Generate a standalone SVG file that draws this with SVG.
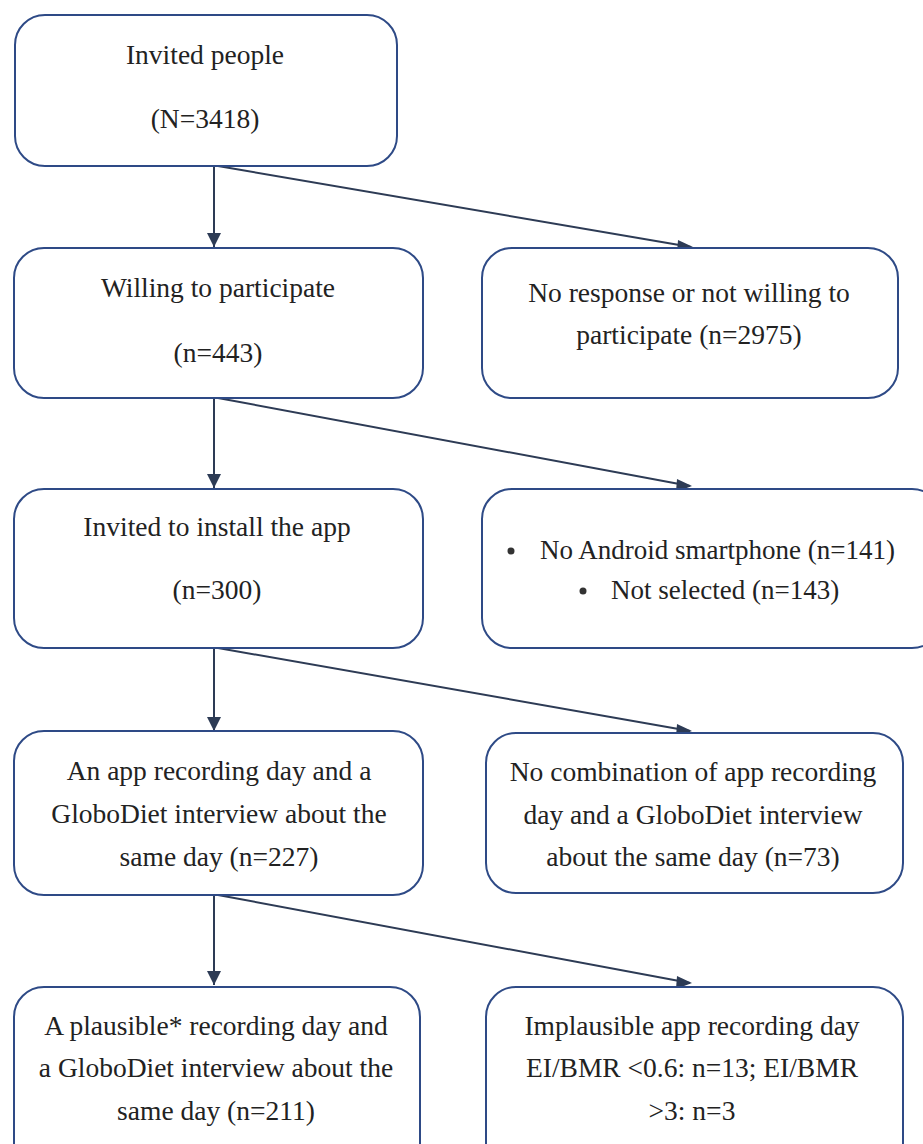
<svg xmlns="http://www.w3.org/2000/svg" width="923" height="1144" viewBox="0 0 923 1144">
<style>
.box{fill:#fff;stroke:#2E4A86;stroke-width:2}
.t{font-family:'Liberation Serif','Times New Roman','DejaVu Serif',serif;font-size:27.5px;fill:#222;text-anchor:middle}
.tl{font-family:'Liberation Serif','Times New Roman','DejaVu Serif',serif;font-size:27px;fill:#222}
.ln{stroke:#2D3B55;stroke-width:2;fill:none}
.ah{fill:#2D3B55}
</style>
<rect width="923" height="1144" fill="#fff"/>
<g id="connectors">
<line class="ln" x1="214" y1="166" x2="214" y2="247"/>
<path class="ah" d="M207,233 L221,233 L214,247 z"/>
<line class="ln" x1="218" y1="166" x2="691" y2="247"/>
<path class="ah" d="M678,240 L693,247 L677,253 z"/>
<line class="ln" x1="214" y1="398" x2="214" y2="488"/>
<path class="ah" d="M207,474 L221,474 L214,488 z"/>
<line class="ln" x1="218" y1="398" x2="690" y2="486"/>
<path class="ah" d="M677,479 L692,486 L676,492 z"/>
<line class="ln" x1="214" y1="648" x2="214" y2="731"/>
<path class="ah" d="M207,717 L221,717 L214,731 z"/>
<line class="ln" x1="218" y1="648" x2="690" y2="731"/>
<path class="ah" d="M677,724 L692,731 L676,737 z"/>
<line class="ln" x1="214" y1="895" x2="214" y2="985"/>
<path class="ah" d="M207,971 L221,971 L214,985 z"/>
<line class="ln" x1="218" y1="895" x2="690" y2="983"/>
<path class="ah" d="M677,976 L692,983 L676,989 z"/>
</g>
<g id="n1">
<rect class="box" x="15" y="15" width="382" height="151" rx="30"/>
<text class="t" x="205" y="64">Invited people</text>
<text class="t" x="205" y="128">(N=3418)</text>
</g>
<g id="n2">
<rect class="box" x="14" y="248" width="409" height="150" rx="30"/>
<text class="t" x="218" y="297">Willing to participate</text>
<text class="t" x="218" y="362">(n=443)</text>
</g>
<g id="n3">
<rect class="box" x="482" y="248" width="416" height="150" rx="30"/>
<text class="t" x="689" y="302">No response or not willing to</text>
<text class="t" x="689" y="344">participate (n=2975)</text>
</g>
<g id="n4">
<rect class="box" x="14" y="489" width="409" height="159" rx="30"/>
<text class="t" x="217" y="536">Invited to install the app</text>
<text class="t" x="217" y="599">(n=300)</text>
</g>
<g id="n5">
<rect class="box" x="482" y="489" width="460" height="159" rx="30"/>
<circle cx="511" cy="551" r="3.5" fill="#333"/>
<text class="tl" x="540" y="559">No Android smartphone (n=141)</text>
<circle cx="583" cy="591" r="3.5" fill="#333"/>
<text class="tl" x="611" y="599">Not selected (n=143)</text>
</g>
<g id="n6">
<rect class="box" x="14" y="731" width="409" height="164" rx="30"/>
<text class="t" x="219" y="780">An app recording day and a</text>
<text class="t" x="219" y="823">GloboDiet interview about the</text>
<text class="t" x="219" y="866">same day (n=227)</text>
</g>
<g id="n7">
<rect class="box" x="486" y="733" width="417" height="160" rx="30"/>
<text class="t" x="693" y="781">No combination of app recording</text>
<text class="t" x="693" y="824">day and a GloboDiet interview</text>
<text class="t" x="693" y="866">about the same day  (n=73)</text>
</g>
<g id="n8">
<rect class="box" x="14" y="987" width="406" height="190" rx="30"/>
<text class="t" x="216" y="1035">A plausible* recording day and</text>
<text class="t" x="216" y="1077">a GloboDiet interview about the</text>
<text class="t" x="216" y="1120">same day (n=211)</text>
</g>
<g id="n9">
<rect class="box" x="486" y="987" width="417" height="190" rx="30"/>
<text class="t" x="692" y="1035">Implausible app recording day</text>
<text class="t" x="692" y="1077">EI/BMR &lt;0.6: n=13; EI/BMR</text>
<text class="t" x="692" y="1120">&gt;3: n=3</text>
</g>
</svg>
